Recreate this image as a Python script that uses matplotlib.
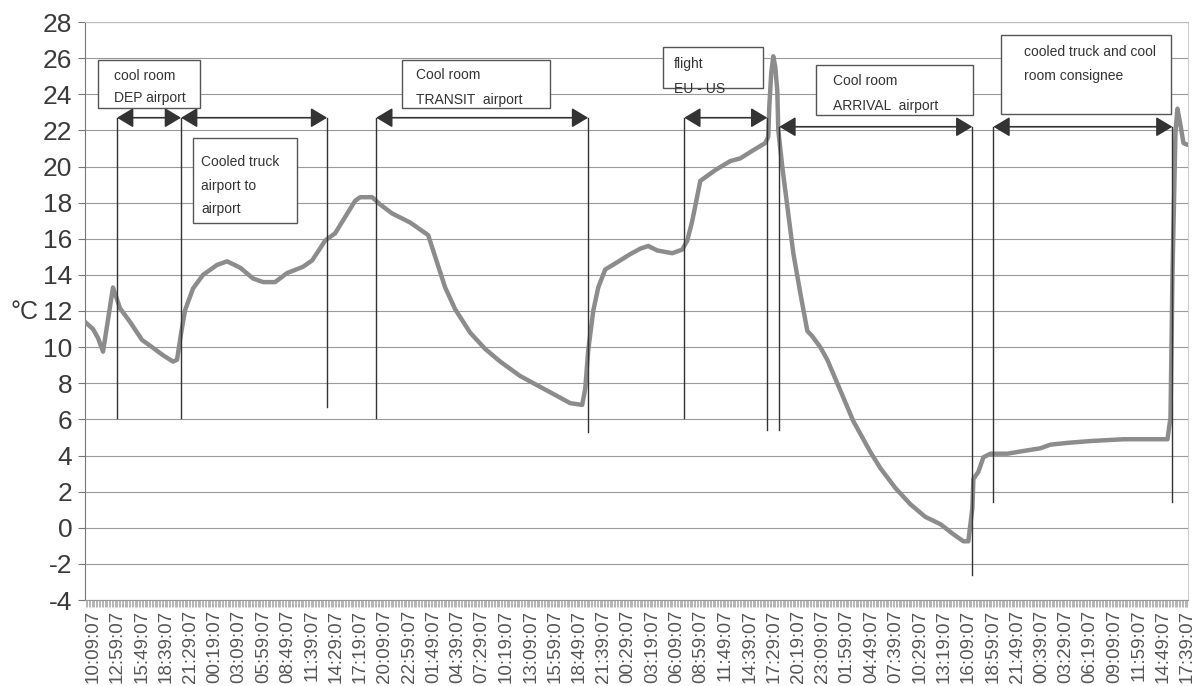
import matplotlib
matplotlib.use('Agg')
import matplotlib.pyplot as plt
import numpy as np
from matplotlib.patches import Rectangle

# ---------------- data ----------------
# hours since start of record, temperature in degC
hours = [0.00, 0.93, 1.52, 2.10, 3.26, 4.08, 5.24, 6.64, 7.81, 9.09, 10.26, 10.72,
         11.19, 11.66, 12.59, 13.75, 15.38, 16.55, 18.07, 19.58, 20.75, 22.14, 23.54,
         25.41, 26.46, 27.16, 27.97, 29.14, 30.30, 31.47, 32.05, 33.45, 34.38, 35.78,
         37.88, 39.98, 40.80, 41.96, 43.12, 44.87, 46.62, 48.37, 50.70, 53.03, 55.36,
         56.52, 57.92, 58.28, 58.62, 59.21, 59.79, 60.61, 62.01, 63.52, 64.69, 65.62,
         66.67, 68.42, 69.58, 70.17, 70.75, 71.22, 71.68, 72.26, 73.43, 75.17, 76.34,
         77.85, 79.25, 79.60, 79.72, 79.95, 80.19, 80.42, 80.65, 80.77, 81.23, 81.82,
         82.52, 83.33, 84.15, 84.73, 85.66, 86.48, 88.00, 89.51, 90.33, 91.49, 92.66,
         94.41, 96.16, 97.90, 99.65, 101.17, 102.33, 102.91, 103.38, 103.50, 104.08,
         104.66, 105.48, 107.46, 109.33, 111.31, 112.47, 114.45, 117.13, 120.98,
         126.11, 126.46, 126.69, 127.04, 127.27, 127.62, 127.97, 128.44]
temps = [11.4, 11.0, 10.5, 9.75, 13.3, 12.15, 11.4, 10.4, 10.0, 9.55, 9.2, 9.3,
         10.75, 12.05, 13.25, 14.0, 14.55, 14.75, 14.4, 13.8, 13.6, 13.6, 14.1,
         14.45, 14.8, 15.3, 15.9, 16.3, 17.2, 18.1, 18.3, 18.3, 17.9, 17.4,
         16.9, 16.2, 15.0, 13.3, 12.1, 10.8, 9.9, 9.2, 8.4, 7.8, 7.2,
         6.9, 6.8, 7.7, 9.8, 12.0, 13.3, 14.3, 14.7, 15.15, 15.45, 15.6,
         15.35, 15.2, 15.4, 15.9, 17.0, 18.1, 19.2, 19.4, 19.8, 20.3, 20.45,
         20.9, 21.3, 21.65, 23.3, 25.2, 26.1, 25.5, 24.2, 22.0, 20.0, 17.8,
         15.2, 13.0, 10.9, 10.6, 10.0, 9.3, 7.6, 5.9, 5.2, 4.2, 3.3,
         2.2, 1.3, 0.6, 0.2, -0.36, -0.75, -0.75, 1.1, 2.7, 3.1,
         3.9, 4.1, 4.1, 4.25, 4.4, 4.6, 4.7, 4.8, 4.9,
         4.9, 6.1, 14.0, 21.9, 23.2, 22.3, 21.3, 21.2]

tick_labels = ["10:09:07", "12:59:07", "15:49:07", "18:39:07", "21:29:07", "00:19:07",
               "03:09:07", "05:59:07", "08:49:07", "11:39:07", "14:29:07", "17:19:07",
               "20:09:07", "22:59:07", "01:49:07", "04:39:07", "07:29:07", "10:19:07",
               "13:09:07", "15:59:07", "18:49:07", "21:39:07", "00:29:07", "03:19:07",
               "06:09:07", "08:59:07", "11:49:07", "14:39:07", "17:29:07", "20:19:07",
               "23:09:07", "01:59:07", "04:49:07", "07:39:07", "10:29:07", "13:19:07",
               "16:09:07", "18:59:07", "21:49:07", "00:39:07", "03:29:07", "06:19:07",
               "09:09:07", "11:59:07", "14:49:07", "17:39:07"]
first_tick_hour = 0.94          # 10:09:07 relative to record start
tick_step_hours = 170 / 60      # labels every 2h50
sample_step_hours = 10 / 60     # readings every 10 min

# transport phases: (start hour, end hour)
phase_bounds = [(3.73, 11.19), (11.19, 28.21), (33.92, 58.62), (69.81, 79.49),
                (80.89, 103.38), (105.83, 126.69)]
# marker lines: (hour, lower temp)
marker_lines = [(3.73, 6.1), (11.19, 6.1), (28.21, 6.7), (33.92, 6.1), (58.62, 5.3),
                (69.81, 6.1), (79.49, 5.4), (80.89, 5.4), (103.38, -2.6),
                (105.83, 1.4), (126.69, 1.4)]
phase_labels = ["cool room\nDEP airport", "Cooled truck\nairport to\nairport",
                "Cool room\nTRANSIT  airport", "flight\nEU - US",
                "Cool room\nARRIVAL  airport", "cooled truck and cool\nroom consignee"]

# ---------------- figure ----------------
plt.rcParams['font.family'] = ['Liberation Sans', 'DejaVu Sans']
plt.rcParams['axes.unicode_minus'] = False

W, H = 1203, 686
fig = plt.figure(figsize=(W / 100, H / 100), dpi=100)
fig.patch.set_facecolor('white')
ax = fig.add_axes([85 / W, 1 - 600 / H, (1188 - 85) / W, (600 - 22) / H])

ax.plot(hours, temps, color='#8c8c8c', lw=3.2, solid_joinstyle='round',
        solid_capstyle='round', zorder=3)

ax.set_ylim(-4, 28)
ax.set_yticks(range(-4, 29, 2))
ax.set_xlim(0, 128.5)
ticks = [first_tick_hour + i * tick_step_hours for i in range(len(tick_labels))]
ax.set_xticks(ticks)
ax.set_xticklabels(tick_labels, rotation=90, fontsize=13.5, color='#555555')
minor = np.arange(first_tick_hour % sample_step_hours, 128.5, sample_step_hours)
ax.set_xticks(minor, minor=True)
ax.tick_params(axis='x', which='both', length=5, width=0.5, color='#999999', pad=2)
ax.tick_params(axis='y', length=5, width=0.8, color='#777777', labelsize=19,
               labelcolor='#3a3a3a', pad=4)

ax.yaxis.grid(True, color='#9a9a9a', lw=0.8)
ax.set_axisbelow(True)
ax.spines['left'].set_color('#777777')
ax.spines['bottom'].set_color('#999999')
ax.spines['top'].set_color('#bbbbbb')
ax.spines['right'].set_color('#cccccc')
for s in ax.spines.values():
    s.set_linewidth(0.8)

fig.text(24 / W, 1 - 312 / H, '°C', fontsize=18, color='#3a3a3a', ha='center', va='center')

# marker lines and arrows
arrow_levels = [22.7, 22.7, 22.7, 22.7, 22.2, 22.2]
for t, lo in marker_lines:
    top = 22.2 if t > 80 else 22.7
    ax.plot([t, t], [lo, top], color='#333333', lw=1.0, zorder=4)
for (a, b), lvl in zip(phase_bounds, arrow_levels):
    ax.annotate('', xy=(b, lvl), xytext=(a, lvl),
                arrowprops=dict(arrowstyle='<|-|>,head_length=1.0,head_width=0.6',
                                color='#333333', lw=1.2, shrinkA=0, shrinkB=0,
                                mutation_scale=10), zorder=5)

# label boxes (reference pixel coordinates)
boxes = [(98, 60, 200, 108, 114, [76, 98]),
         (193, 138, 297, 223, 201, [162, 186, 209]),
         (402, 60, 550, 108, 416, [75, 100]),
         (663, 47, 763, 88, 674, [64, 89]),
         (816, 65, 973, 115, 833, [81, 106]),
         (1001, 35, 1171, 114, 1024, [52, 76])]
for (x0, y0, x1, y1, tx, tys), label in zip(boxes, phase_labels):
    rect = Rectangle((x0 / W, 1 - y1 / H), (x1 - x0) / W, (y1 - y0) / H,
                     transform=fig.transFigure, facecolor='white', edgecolor='#555555',
                     lw=1.0, zorder=6)
    fig.patches.append(rect)
    for line, ty in zip(label.split('\n'), tys):
        fig.text(tx / W, 1 - ty / H, line, fontsize=10, color='#333333',
                 ha='left', va='center', zorder=7)

fig.savefig('out.png', dpi=100)
